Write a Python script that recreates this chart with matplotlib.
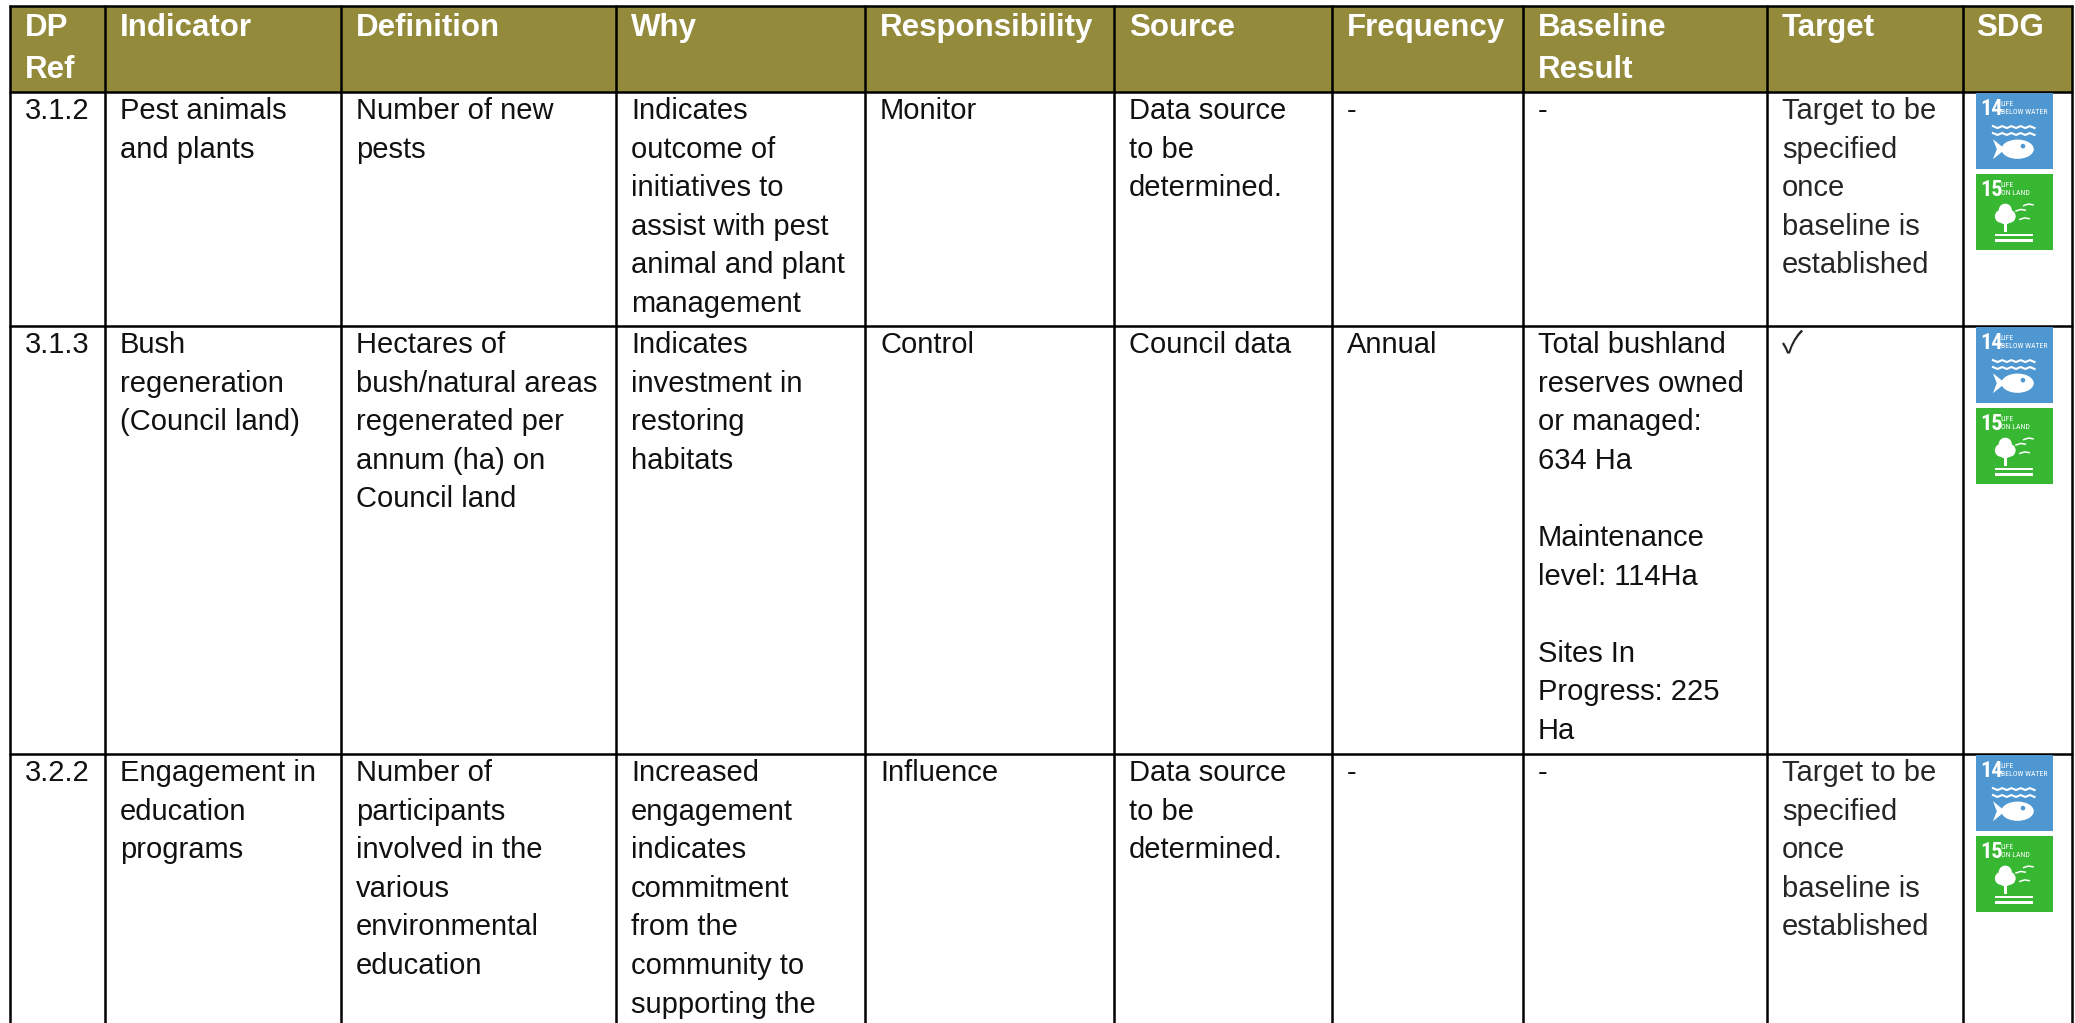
import matplotlib
matplotlib.use("Agg")
import matplotlib.pyplot as plt
from matplotlib import font_manager
from matplotlib.patches import Rectangle, Circle, Ellipse, Polygon

plt.rcParams["font.family"] = ["Liberation Sans", "DejaVu Sans"]

HEADER_BG = "#948A3B"
INK = "#111111"
SOFT_INK = "#262626"
BLUE = "#4F97D0"
GREEN = "#38B733"

headers = ["DP\nRef", "Indicator", "Definition", "Why", "Responsibility",
           "Source", "Frequency", "Baseline\nResult", "Target", "SDG"]

row_1 = ["3.1.2", "Pest animals\nand plants", "Number of new\npests",
         "Indicates\noutcome of\ninitiatives to\nassist with pest\nanimal and plant\nmanagement",
         "Monitor", "Data source\nto be\ndetermined.", "-", "-",
         "Target to be\nspecified\nonce\nbaseline is\nestablished"]
row_2 = ["3.1.3", "Bush\nregeneration\n(Council land)",
         "Hectares of\nbush/natural areas\nregenerated per\nannum (ha) on\nCouncil land",
         "Indicates\ninvestment in\nrestoring\nhabitats",
         "Control", "Council data", "Annual",
         "Total bushland\nreserves owned\nor managed:\n634 Ha\n\nMaintenance\nlevel: 114Ha\n\nSites In\nProgress: 225\nHa",
         "\u2713"]
row_3 = ["3.2.2", "Engagement in\neducation\nprograms",
         "Number of\nparticipants\ninvolved in the\nvarious\nenvironmental\neducation",
         "Increased\nengagement\nindicates\ncommitment\nfrom the\ncommunity to\nsupporting the",
         "Influence", "Data source\nto be\ndetermined.", "-", "-",
         "Target to be\nspecified\nonce\nbaseline is\nestablished"]
rows = [row_1, row_2, row_3]

# layout in reference pixels
col_x = [10, 105, 341, 616, 865, 1114, 1332, 1523, 1767, 1963, 2072]
row_y = [6, 92, 326, 754]
PAD = 15
LINE_H = 38.6

# narrow face for the goal tiles, if one is around
installed = {f.name for f in font_manager.fontManager.ttflist}
narrow = next((n for n in ["Liberation Sans Narrow", "Roboto Condensed", "Open Sans Condensed"]
               if n in installed), "Liberation Sans")
narrow_found = narrow != "Liberation Sans"


def draw_lines(ax, x, y, s, size, weight="normal", color=INK, pitch=LINE_H):
    for i, part in enumerate(s.split("\n")):
        if part == "\u2713":
            ax.text(x, y, part, fontsize=22, color=color, va="baseline", ha="left",
                    family=["Noto Sans CJK JP", "DejaVu Sans"])
            continue
        ax.text(x, y + i * pitch, part, fontsize=size, fontweight=weight,
                color=color, va="baseline", ha="left")


def icon(ax, x, y, w, h, colour, num, label):
    u = w / 100
    ax.add_patch(Rectangle((x, y), w, h, fc=colour, ec="none", zorder=3))
    ax.text(x + 6 * u, y + 29 * u, num, fontsize=16 if narrow_found else 12.5, fontweight="bold",
            color="white", va="baseline", ha="left", zorder=4, family=narrow)
    for i, part in enumerate(label):
        ax.text(x + 32 * u, y + (17 + 10.5 * i) * u, part, fontsize=5.6 if narrow_found else 4.3,
                color="white", va="baseline", ha="left", zorder=4, family=narrow)
    if num == "14":
        for yy in (43, 52):
            ax.plot([x + 22 * u + i * 6 * u for i in range(10)],
                    [y + (yy + (i % 2) * 2.5) * u for i in range(10)],
                    color="white", lw=1.5, zorder=4)
        ax.add_patch(Ellipse((x + 54 * u, y + 73 * u), 42 * u, 25 * u, fc="white", ec="none", zorder=4))
        ax.add_patch(Polygon([(x + 38 * u, y + 73 * u), (x + 22 * u, y + 60 * u),
                              (x + 27 * u, y + 73 * u), (x + 22 * u, y + 86 * u)],
                             fc="white", ec="none", zorder=4))
        ax.add_patch(Circle((x + 61 * u, y + 69 * u), 3 * u, fc=colour, ec="none", zorder=5))
    else:
        for cx, cy, r in [(38, 47, 8.5), (33, 55, 8.5), (43, 55, 8.5), (38, 58, 7.5)]:
            ax.add_patch(Circle((x + cx * u, y + cy * u), r * u, fc="white", ec="none", zorder=4))
        ax.add_patch(Rectangle((x + 37 * u, y + 62 * u), 3 * u, 13 * u, fc="white", ec="none", zorder=4))
        for yy in (78, 85):
            ax.add_patch(Rectangle((x + 25 * u, y + yy * u), 49 * u, 3 * u, fc="white", ec="none", zorder=4))
        for x0, y0 in [(52, 47), (62, 40), (57, 58)]:
            ax.plot([x + x0 * u, x + (x0 + 6) * u, x + (x0 + 12) * u],
                    [y + (y0 + 1) * u, y + (y0 - 1) * u, y + y0 * u],
                    color="white", lw=1.1, zorder=4)


fig = plt.figure(figsize=(20.75, 10.23), dpi=100, facecolor="white")
ax = fig.add_axes([0, 0, 1, 1])
ax.set_xlim(0, 2075)
ax.set_ylim(1023, 0)
ax.axis("off")

ax.add_patch(Rectangle((col_x[0], row_y[0]), col_x[-1] - col_x[0], row_y[1] - row_y[0],
                       fc=HEADER_BG, ec="none"))

for x in col_x:
    ax.plot([x, x], [row_y[0] - 1, 1023], color="black", lw=1.8, solid_capstyle="butt")
for y in row_y:
    ax.plot([col_x[0] - 1, col_x[-1] + 1], [y, y], color="black", lw=1.8, solid_capstyle="butt")

for i, h in enumerate(headers):
    # SDG sits closer to its rule than the other headers
    pad = 13 if h == "SDG" else PAD
    draw_lines(ax, col_x[i] + pad, 36, h, 22.5, weight="bold", color="white", pitch=42)

for r, row in enumerate(rows):
    for c, s in enumerate(row):
        draw_lines(ax, col_x[c] + PAD, row_y[r + 1] + 27, s, 21,
                   color=SOFT_INK if c == 8 else INK)
    icon(ax, 1976, row_y[r + 1] + 1, 77, 76, BLUE, "14", ["LIFE", "BELOW WATER"])
    icon(ax, 1976, row_y[r + 1] + 82, 77, 76, GREEN, "15", ["LIFE", "ON LAND"])

fig.savefig("out.png", dpi=100)
